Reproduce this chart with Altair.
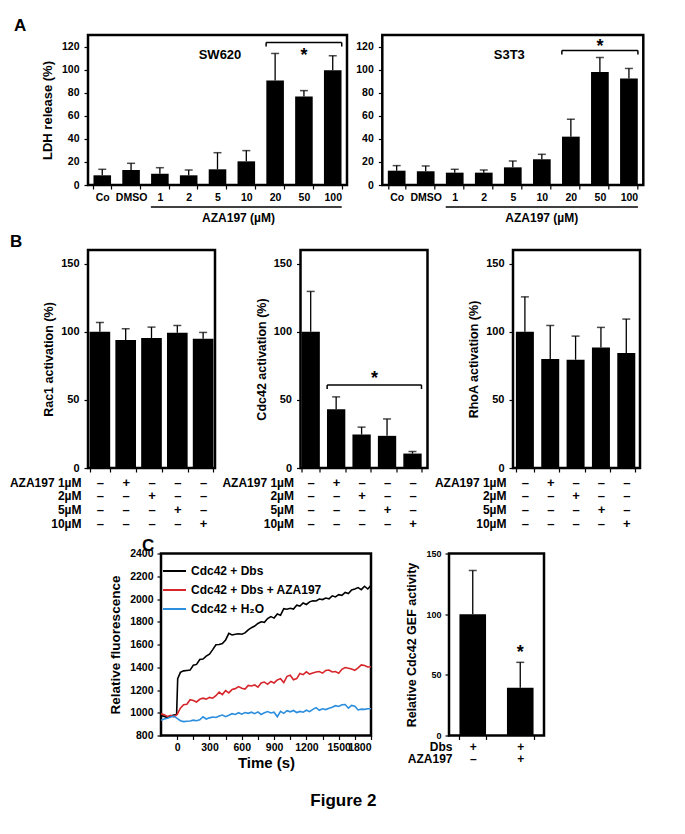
import altair as alt
import pandas as pd

FONT = "Liberation Sans"

# ---------------- Panel A : LDH release ----------------
A_cats = ["Co", "DMSO", "1", "2", "5", "10", "20", "50", "100"]
sw620_mean = [8.4, 13.0, 9.8, 8.4, 13.6, 20.5, 90.5, 76.6, 99.5]
sw620_sd = [5.2, 5.8, 5.2, 4.6, 14.4, 9.3, 23.5, 5.2, 12.5]
s3t3_mean = [12.4, 11.9, 10.7, 10.7, 15.3, 22.3, 41.9, 98.0, 92.2]
s3t3_sd = [4.4, 4.6, 2.9, 2.3, 5.5, 4.3, 15.1, 12.5, 8.8]
A_ticks = [0, 20, 40, 60, 80, 100, 120]
A_sig = {"SW620": (123.5, 120.0, 115.5), "S3T3": (116.5, 113.0, 123.0)}

# ---------------- Panel B : GTPase activation ----------------
B_rows = ["AZA197 1µM", "2µM", "5µM", "10µM"]
B_signs = ["–|–|–|–", "+|–|–|–", "–|+|–|–", "–|–|+|–", "–|–|–|+"]
rac1_mean = [100.0, 93.9, 95.4, 99.3, 94.9]
rac1_sd = [6.8, 8.3, 8.0, 5.3, 4.6]
cdc42_mean = [100.0, 43.1, 24.6, 23.6, 10.6]
cdc42_sd = [29.6, 9.1, 5.4, 12.4, 1.5]
rhoa_mean = [100.0, 80.0, 79.5, 88.5, 84.4]
rhoa_sd = [25.6, 24.6, 17.3, 14.7, 24.9]
B_ticks = [0, 50, 100, 150]

# ---------------- Panel C : GEF assay ----------------
series_names = ["Cdc42 + Dbs", "Cdc42 + Dbs + AZA197", "Cdc42 + H₂O"]
series_colors = ["#000000", "#d7262b", "#2b8ede"]
common_t = [-150, -120, -90, -60, -30, 0, 30, 60, 90, 120, 150, 180, 210, 240, 270, 300,
            330, 360, 390, 420, 450, 480, 510, 540, 570, 600, 630, 660, 690, 720, 750, 780,
            810, 840, 870, 900, 930, 960, 990, 1020, 1050, 1080, 1110, 1140, 1170, 1200,
            1230, 1260, 1290, 1320, 1350, 1380, 1410, 1440, 1470, 1500, 1530, 1560, 1590,
            1620, 1650, 1680, 1710, 1740, 1770, 1800]
black_t = [-150, -120, -90, -60, -30, -5, 5, 30, 60, 90, 120, 150, 180, 210, 240, 270, 300,
           330, 360, 390, 420, 450, 480, 510, 540, 570, 600, 630, 660, 690, 720, 750, 780,
           810, 840, 870, 900, 930, 960, 990, 1020, 1050, 1080, 1110, 1140, 1170, 1200,
           1230, 1260, 1290, 1320, 1350, 1380, 1410, 1440, 1470, 1500, 1530, 1560, 1590,
           1620, 1650, 1680, 1710, 1740, 1770, 1800]
black_v = [975, 968, 958, 972, 980, 985, 1300,
           1355, 1368, 1372, 1375, 1418, 1425, 1468, 1472, 1498, 1515,
           1555, 1598, 1600, 1608, 1640, 1698, 1684, 1690, 1694, 1690,
           1702, 1728, 1748, 1762, 1785, 1800, 1795, 1828, 1845, 1832,
           1868, 1858, 1915, 1910, 1918, 1912, 1945, 1938, 1965, 1952,
           1975, 1985, 1982, 2000, 1995, 2008, 2002, 2028, 2018, 2038,
           2032, 2058, 2048, 2080, 2088, 2100, 2082, 2112, 2088, 2120]
red_v = [990, 982, 968, 978, 965, 985,
         1040, 1070, 1075, 1115, 1108, 1095, 1118, 1128, 1120, 1135,
         1128, 1150, 1182, 1160, 1195, 1175, 1205, 1212, 1230, 1215,
         1208, 1240, 1235, 1245, 1225, 1262, 1270, 1250, 1275, 1262,
         1288, 1300, 1265, 1320, 1330, 1290, 1300, 1345, 1335, 1360,
         1340, 1350, 1358, 1362, 1348, 1372, 1376, 1358, 1362, 1348,
         1382, 1398, 1392, 1385, 1372, 1395, 1420, 1415, 1402, 1405]
blue_v = [935, 945, 952, 962, 970, 950,
          930, 922, 925, 928, 935, 930, 938, 965, 945, 955,
          962, 958, 972, 980, 965, 978, 992, 985, 1000, 988,
          1002, 995, 1005, 992, 1008, 985, 1000, 1010, 998, 1005,
          965, 1012, 995, 1018, 1008, 1020, 1002, 1012, 1005, 1022,
          1010, 1030, 1045, 1022, 1035, 1028, 1040, 1048, 1062, 1055,
          1070, 1072, 1040, 1065, 1058, 1025, 1032, 1030, 1035, 1035]
C_xticks = [0, 150, 300, 450, 600, 750, 900, 1050, 1200, 1350, 1500, 1650, 1800]
C_yticks = [800, 1000, 1200, 1400, 1600, 1800, 2000, 2200, 2400]

C2_rows = ["Dbs", "AZA197"]
C2_signs = ["+|–", "+|+"]
gef_mean = [100.0, 39.3]
gef_sd = [36.0, 21.0]
C2_ticks = [0, 50, 100, 150]


# ---------------- helpers ----------------
def spacer(w, h):
    return (alt.Chart(pd.DataFrame({"s": [0]}))
            .mark_point(opacity=0, size=1)
            .encode(x=alt.value(0), y=alt.value(0))
            .properties(width=w, height=h, view=alt.ViewBackground(strokeOpacity=0)))


def label_text(txt, x, y, size=17, align="left", baseline="alphabetic"):
    return (alt.Chart(pd.DataFrame({"t": [txt]}))
            .mark_text(font=FONT, fontSize=size, fontWeight="bold", align=align,
                       baseline=baseline, color="black")
            .encode(text="t:N", x=alt.value(x), y=alt.value(y)))


def core_layers(cats, mean, sd, x_enc, y_enc, cap=8):
    df = pd.DataFrame({"cat": cats, "v": mean,
                       "v2": [m + s for m, s in zip(mean, sd)]})
    base = alt.Chart(df)
    bars = base.mark_bar(color="black").encode(x=x_enc, y=y_enc)
    err = base.mark_rule(color="black", strokeWidth=1.3).encode(
        x=x_enc, y=y_enc, y2="v2:Q")
    capm = (base.transform_calculate(v="datum.v2")
            .mark_tick(color="black", size=cap, thickness=1.5, orient="horizontal")
            .encode(x=x_enc, y=y_enc))
    return [bars, err, capm]


def bracket_layers(x_enc, y_enc, c1, c2, yb, yl, off=9):
    hdf = pd.DataFrame({"cat": [c1], "cat2": [c2], "v": [yb]})
    h = (alt.Chart(hdf).mark_rule(color="black", strokeWidth=1.5,
                                   xOffset=-off, x2Offset=off)
         .encode(x=x_enc, x2="cat2:N", y=y_enc))
    ldf = pd.DataFrame({"cat": [c1], "v": [yb], "v2": [yl]})
    left = (alt.Chart(ldf).mark_rule(color="black", strokeWidth=1.5, xOffset=-off)
            .encode(x=x_enc, y=y_enc, y2="v2:Q"))
    rdf = pd.DataFrame({"cat": [c2], "v": [yb], "v2": [yl]})
    right = (alt.Chart(rdf).mark_rule(color="black", strokeWidth=1.5, xOffset=off)
             .encode(x=x_enc, y=y_enc, y2="v2:Q"))
    return [h, left, right]


def star_layer(x_enc, y_enc, cat, v, dx=0):
    df = pd.DataFrame({"cat": [cat], "v": [v], "t": ["*"]})
    return (alt.Chart(df)
            .mark_text(font=FONT, fontSize=18, fontWeight="bold", baseline="middle",
                       dy=4, dx=dx, color="black")
            .encode(x=x_enc, y=y_enc, text="t:N"))


# ---------------- Panel A ----------------
def ldh_panel(mean, sd, name, sig, width, ytitle, title_x, name_x, letter=None):
    x_enc = alt.X("cat:N",
                  scale=alt.Scale(domain=A_cats, paddingInner=0.39, paddingOuter=0.19),
                  axis=alt.Axis(title="AZA197 (µM)", labelAngle=0, labelFontSize=10.5,
                                labelPadding=3, tickBand="extent", titleFontSize=12,
                                titleX=title_x, titleY=27, titleBaseline="top",
                                labelOverlap=False))
    y_enc = alt.Y("v:Q", scale=alt.Scale(domain=[0, 130], nice=False),
                  axis=alt.Axis(title=ytitle, values=A_ticks, labelFontSize=10.5,
                                labelPadding=5, titleFontSize=13, titlePadding=7))
    layers = core_layers(A_cats, mean, sd, x_enc, y_enc)
    layers += bracket_layers(x_enc, y_enc, "20", "100", sig[0], sig[1])
    layers.append(star_layer(x_enc, y_enc, "50", sig[2]))
    ul = pd.DataFrame({"cat": ["1"], "cat2": ["100"]})
    layers.append(alt.Chart(ul).mark_rule(color="black", strokeWidth=1.5,
                                          xOffset=-9, x2Offset=9)
                  .encode(x=x_enc, x2="cat2:N", y=alt.value(172)))
    layers.append(label_text(name, name_x, 20, size=13, align="center",
                             baseline="middle"))
    if letter:
        layers.append(label_text(letter, -74, -4))
    return alt.layer(*layers).properties(width=width, height=150)


A1 = ldh_panel(sw620_mean, sw620_sd, "SW620", A_sig["SW620"], 259,
               "LDH release (%)", 150, 132, letter="A")
A2 = ldh_panel(s3t3_mean, s3t3_sd, "S3T3", A_sig["S3T3"], 261, None, 159, 127)


# ---------------- Panel B ----------------
def act_panel(mean, sd, ytitle, pi, po, al, sig=None, letter=None):
    x_enc = alt.X("cat:N",
                  scale=alt.Scale(domain=B_signs, paddingInner=pi, paddingOuter=po,
                                  align=al),
                  axis=alt.Axis(title=B_rows, labelExpr="split(datum.label, '|')",
                                labelAngle=0, labelFontSize=13, labelLineHeight=13.7,
                                labelPadding=4, labelBaseline="top", tickBand="extent",
                                titleFontSize=12, titleLineHeight=13.7,
                                titleAlign="right", titleX=-7, titleY=9,
                                titleBaseline="top", labelOverlap=False))
    y_enc = alt.Y("v:Q", scale=alt.Scale(domain=[0, 160], nice=False),
                  axis=alt.Axis(title=ytitle, values=B_ticks, labelFontSize=11,
                                labelPadding=5, titleFontSize=12.5, titlePadding=5))
    layers = core_layers(B_signs, mean, sd, x_enc, y_enc)
    if sig:
        layers += bracket_layers(x_enc, y_enc, B_signs[1], B_signs[4], sig[0], sig[1])
        layers.append(star_layer(x_enc, y_enc, B_signs[2], sig[2], dx=13))
    if letter:
        layers.append(label_text(letter, -78, -3))
    return alt.layer(*layers).properties(width=127, height=218)


B1 = act_panel(rac1_mean, rac1_sd, "Rac1 activation (%)", 0.2, 0.06, 0.5, letter="B")
B2 = act_panel(cdc42_mean, cdc42_sd, "Cdc42 activation (%)", 0.28, 0.135, 0.15,
               sig=(61.0, 58.0, 68.5))
B3 = act_panel(rhoa_mean, rhoa_sd, "RhoA activation (%)", 0.29, 0.15, 0.38)

# ---------------- Panel C ----------------
line_df = pd.concat([
    pd.DataFrame({"t": black_t, "v": black_v, "series": series_names[0]}),
    pd.DataFrame({"t": common_t, "v": red_v, "series": series_names[1]}),
    pd.DataFrame({"t": common_t, "v": blue_v, "series": series_names[2]}),
])

lines = alt.Chart(line_df).mark_line(strokeWidth=1.6).encode(
    x=alt.X("t:Q", scale=alt.Scale(domain=[-150, 1800], nice=False, zero=False),
            axis=alt.Axis(values=C_xticks, format="d",
                          labelExpr="datum.value % 300 == 0 ? datum.label : ''",
                          title="Time (s)", titleFontSize=15, labelFontSize=10.5,
                          labelPadding=3, titlePadding=2, labelOverlap=False)),
    y=alt.Y("v:Q", scale=alt.Scale(domain=[800, 2400], nice=False, zero=False),
            axis=alt.Axis(values=C_yticks, format="d", title="Relative fluorescence",
                          titleFontSize=13.5, labelFontSize=10.5, labelPadding=4,
                          titlePadding=7)),
    color=alt.Color("series:N", sort=series_names,
                    scale=alt.Scale(domain=series_names, range=series_colors),
                    legend=alt.Legend(title=None, orient="none", legendX=1, legendY=5,
                                      padding=0, symbolType="stroke", symbolSize=529,
                                      symbolStrokeWidth=2, labelFontSize=12,
                                      labelFont=FONT, labelFontWeight="bold",
                                      labelColor="black", rowPadding=0, labelOffset=4,
                                      labelLimit=300)),
    detail="series:N",
)
C1 = alt.layer(lines, label_text("C", -19, -2.5)).properties(width=210, height=182)

xC2 = alt.X("cat:N",
            scale=alt.Scale(domain=C2_signs, paddingInner=0.44, paddingOuter=0.22),
            axis=alt.Axis(title=C2_rows, labelExpr="split(datum.label, '|')",
                          labelAngle=0, labelFontSize=12, labelLineHeight=12,
                          labelPadding=2, labelBaseline="top", tickBand="extent",
                          titleFontSize=12, titleLineHeight=12, titleAlign="right",
                          titleX=3, titleY=6, titleBaseline="top", labelOverlap=False))
yC2 = alt.Y("v:Q", scale=alt.Scale(domain=[0, 150], nice=False),
            axis=alt.Axis(title="Relative Cdc42 GEF activity", values=C2_ticks,
                          labelFontSize=9, labelPadding=4, titleFontSize=12.5,
                          titlePadding=7))
C2_layers = core_layers(C2_signs, gef_mean, gef_sd, xC2, yC2)
C2_layers.append(star_layer(xC2, yC2, C2_signs[1], 70.9))
C2 = alt.layer(*C2_layers).properties(width=95, height=182)

# ---------------- assemble ----------------
rowA = alt.hconcat(A1, A2, spacing=35.3, bounds="flush")
rowB = alt.hconcat(B1, B2, B3, spacing=85.5, bounds="flush")
rowC = (alt.hconcat(spacer(71.4, 1), C1, spacer(75.3, 1), C2, spacing=1, bounds="flush")
        .resolve_scale(color="independent").resolve_legend(color="independent"))

top = alt.vconcat(rowA, rowB, spacing=6)

chart = (
    alt.vconcat(top, rowC, spacing=3.5)
    .resolve_scale(color="independent").resolve_legend(color="independent")
    .properties(
        title=alt.TitleParams("Figure 2", orient="bottom", anchor="middle", font=FONT,
                              fontSize=17, fontWeight="bold", color="black",
                              offset=22, dx=17),
        padding={"left": 0, "top": 7, "right": 10, "bottom": 10},
    )
    .configure_view(stroke="black", strokeWidth=2.5)
    .configure_axis(labelFont=FONT, titleFont=FONT, labelFontWeight="bold",
                    titleFontWeight="bold", labelColor="black", titleColor="black",
                    tickColor="black", tickWidth=1.2, tickSize=4, domain=False,
                    grid=False)
    .configure_text(font=FONT)
)

chart.save("out.html", embed_options={"renderer": "svg", "actions": False})
